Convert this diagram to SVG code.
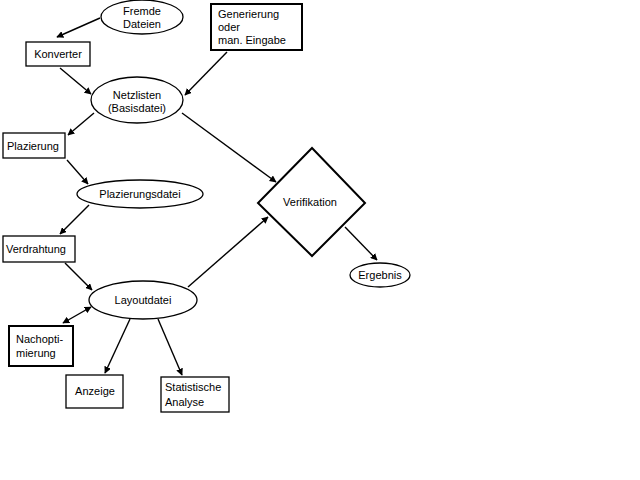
<svg xmlns="http://www.w3.org/2000/svg" width="640" height="480" viewBox="0 0 640 480">
<defs>
<marker id="ah" viewBox="0 0 10 10" refX="9" refY="5" markerWidth="7" markerHeight="7" markerUnits="userSpaceOnUse" orient="auto-start-reverse">
<path d="M0,0 L10,5 L0,10 z" fill="#000"/>
</marker>
<style>
.n{fill:#fff;stroke:#000;stroke-width:1.3}
.b{fill:#fff;stroke:#000;stroke-width:2}
.t{font-family:"Liberation Sans",Arial,sans-serif;font-size:11px;fill:#000}
.m{text-anchor:middle}
.c line{stroke:#000;stroke-width:1.4;marker-end:url(#ah)}
</style>
</defs>
<rect width="640" height="480" fill="#fff"/>
<g class="c">
<line x1="100" y1="18" x2="57" y2="37"/>
<line x1="60" y1="68" x2="91" y2="94"/>
<line x1="227" y1="52" x2="185" y2="95"/>
<line x1="94" y1="113" x2="68" y2="135"/>
<line x1="182" y1="113" x2="276" y2="182"/>
<line x1="67" y1="160" x2="88" y2="184"/>
<line x1="89" y1="205" x2="60" y2="234"/>
<line x1="65" y1="263" x2="92" y2="290"/>
<line x1="188" y1="287" x2="268" y2="217"/>
<line x1="91" y1="307" x2="63" y2="323" marker-start="url(#ah)"/>
<line x1="130" y1="319" x2="105" y2="373"/>
<line x1="158" y1="319" x2="182" y2="375"/>
<line x1="345" y1="227" x2="377" y2="260"/>
</g>
<g id="fremde"><ellipse class="n" cx="142" cy="17" rx="41" ry="17"/><text class="t m" x="142" y="15">Fremde</text><text class="t m" x="142" y="28">Dateien</text></g>
<g id="konverter"><rect class="n" x="26" y="42" width="64" height="24"/><text class="t m" x="58" y="58">Konverter</text></g>
<g id="generierung"><rect class="b" x="211" y="4" width="91" height="46"/><text class="t" x="218" y="18">Generierung</text><text class="t" x="218" y="31">oder</text><text class="t" x="218" y="44">man. Eingabe</text></g>
<g id="netzlisten"><ellipse class="n" cx="137" cy="100" rx="46" ry="23"/><text class="t m" x="137" y="99">Netzlisten</text><text class="t m" x="137" y="112">(Basisdatei)</text></g>
<g id="plazierung"><rect class="n" x="3" y="133" width="62" height="25"/><text class="t" x="7" y="150">Plazierung</text></g>
<g id="plazierungsdatei"><ellipse class="n" cx="140" cy="194" rx="63" ry="14"/><text class="t m" x="140" y="198">Plazierungsdatei</text></g>
<g id="verdrahtung"><rect class="n" x="3" y="236" width="72" height="26"/><text class="t" x="6" y="253">Verdrahtung</text></g>
<g id="layoutdatei"><ellipse class="n" cx="143" cy="300" rx="54" ry="19"/><text class="t m" x="143" y="304">Layoutdatei</text></g>
<g id="nachoptimierung"><rect class="b" x="9" y="326" width="64" height="40"/><text class="t" x="16" y="343">Nachopti-</text><text class="t" x="16" y="357">mierung</text></g>
<g id="anzeige"><rect class="n" x="66" y="375" width="57" height="33"/><text class="t m" x="95" y="395">Anzeige</text></g>
<g id="statistische"><rect class="n" x="161" y="377" width="68" height="35"/><text class="t" x="165" y="391">Statistische</text><text class="t" x="165" y="406">Analyse</text></g>
<g id="verifikation"><polygon class="b" points="312,148 365,203 312,256 258,203"/><text class="t m" x="310" y="206">Verifikation</text></g>
<g id="ergebnis"><ellipse class="n" cx="380" cy="275" rx="30" ry="12"/><text class="t m" x="380" y="279">Ergebnis</text></g>
</svg>
